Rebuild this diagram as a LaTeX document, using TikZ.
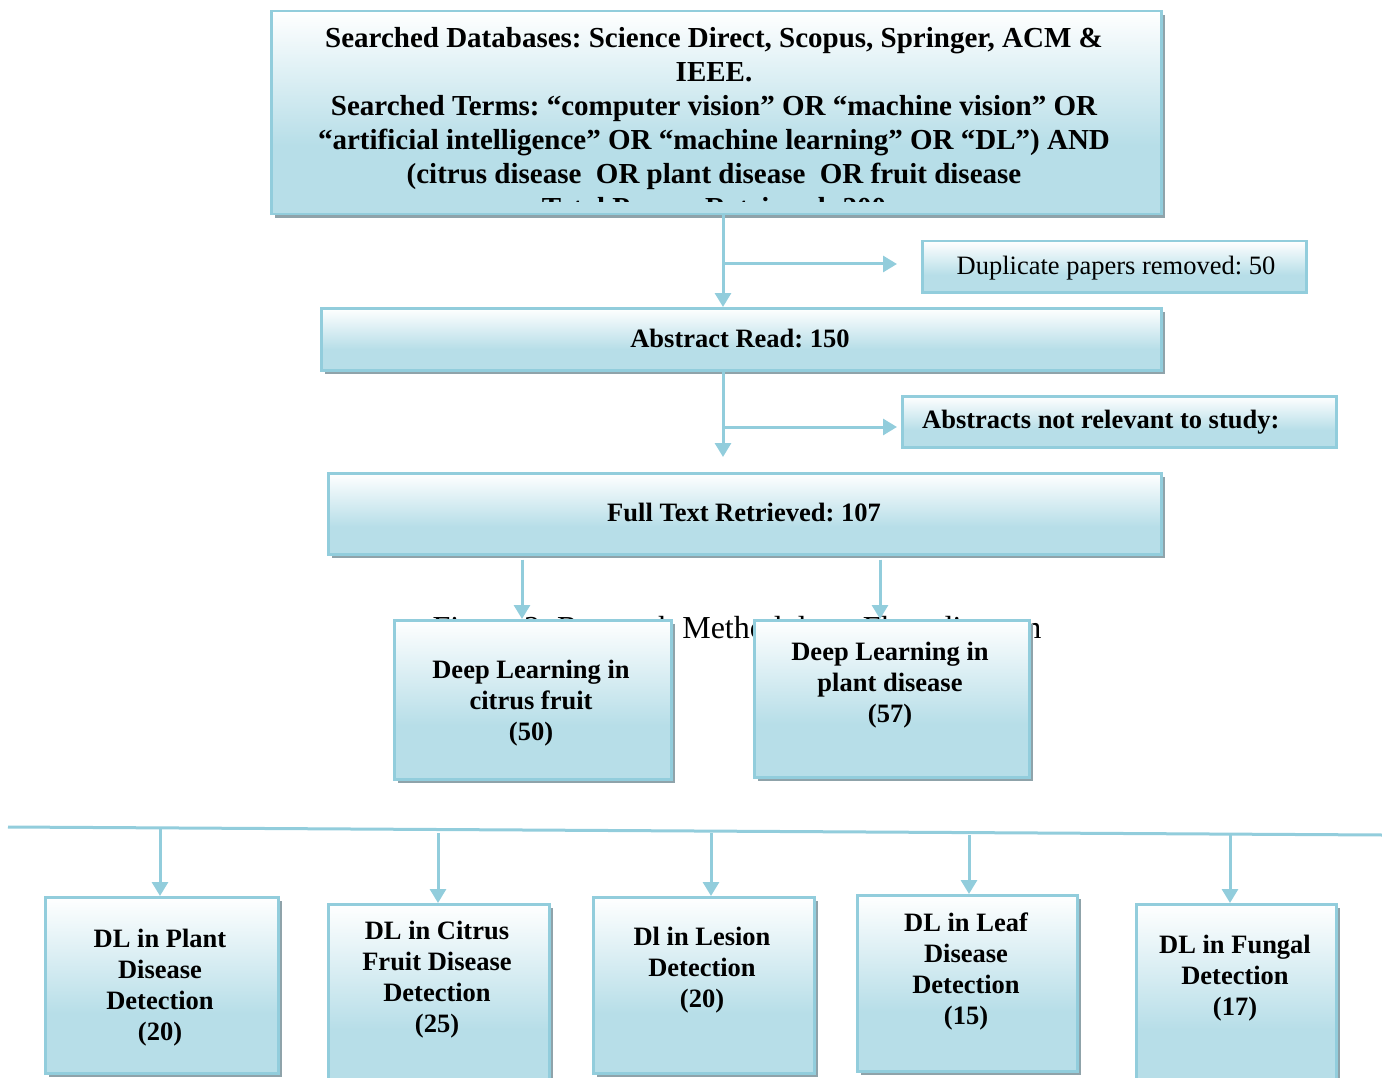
\documentclass[tikz,border=0pt]{standalone}
\usepackage{fontspec}
\setmainfont{Liberation Serif}
\usetikzlibrary{arrows.meta,shadows}
\definecolor{lineblue}{HTML}{92CDDC}
\definecolor{boxblue}{HTML}{B7DEE8}
\definecolor{shadowgray}{HTML}{8FA3AA}
\pgfdeclareverticalshading{boxshade}{100bp}{color(0bp)=(boxblue); color(25bp)=(boxblue); color(42bp)=(boxblue); color(75bp)=(white); color(100bp)=(white)}
\tikzset{
  box/.style={draw=lineblue, line width=2.5pt, shading=boxshade, inner sep=0pt, anchor=north west,
    drop shadow={shadow xshift=4pt, shadow yshift=-4pt, fill=shadowgray, opacity=1}},
  flatbox/.style={draw=lineblue, line width=2.5pt, shading=boxshade, inner sep=0pt, anchor=north west},
  conn/.style={draw=lineblue, line width=3pt, -{Triangle[width=16pt,length=14pt]}},
  plain/.style={draw=lineblue, line width=3pt},
  btxt/.style={font=\bfseries\fontsize{29}{34}\selectfont, align=center, inner sep=0pt},
  stxt/.style={font=\bfseries\fontsize{26.5}{31}\selectfont, align=center, inner sep=0pt},
}
\frenchspacing
\begin{document}
\begin{tikzpicture}[x=1pt,y=-1pt]
\useasboundingbox (0,0) rectangle (1382,1078);
\clip (0,0) rectangle (1382,1078);
% caption behind boxes
\node[font=\fontsize{32}{38}\selectfont, anchor=base, inner sep=0pt] (cap) at (737,638) {Figure 2: Research Methodology Flow diagram};
% boxes
\node[box, minimum width=890pt, minimum height=203pt] (top) at (270,10) {};
\node[flatbox, minimum width=384pt, minimum height=51pt] (dup) at (921,240) {};
\node[box, minimum width=840pt, minimum height=62pt] (abs) at (320,307) {};
\node[flatbox, minimum width=434pt, minimum height=51pt] (nrel) at (901,395) {};
\node[box, minimum width=833pt, minimum height=81pt] (full) at (327,472) {};
\node[box, minimum width=277pt, minimum height=159pt] (citrus) at (393,619) {};
\node[box, minimum width=275pt, minimum height=157pt] (plant) at (753,619) {};
\node[box, minimum width=233pt, minimum height=176pt] (b1) at (44,896) {};
\node[box, minimum width=221pt, minimum height=190pt] (b2) at (327,903) {};
\node[box, minimum width=221pt, minimum height=176pt] (b3) at (592,896) {};
\node[box, minimum width=220pt, minimum height=176pt] (b4) at (856,894) {};
\node[box, minimum width=200pt, minimum height=190pt] (b5) at (1135,903) {};
% texts
\begin{scope}
\clip (272,12) rectangle (1158,202);
\node[btxt] (ttop) at (714,126) {Searched Databases: Science Direct, Scopus, Springer, ACM \&\\IEEE.\\Searched Terms: “computer vision” OR “machine vision” OR\\“artificial intelligence” OR “machine learning” OR “DL”) AND\\(citrus disease\ \ OR plant disease\ \ OR fruit disease\\Total Papers Retrieved: 200};
\end{scope}
\node[font=\fontsize{26.5}{31}\selectfont, inner sep=0pt] (tdup) at (1116,268) {Duplicate papers removed: 50};
\node[stxt] (tabs) at (740,338) {Abstract Read: 150};
\node[stxt, anchor=west] (tnrel) at (922,422) {Abstracts not relevant to study:};
\node[stxt] (tfull) at (744,512) {Full Text Retrieved: 107};
\node[stxt] (tcitrus) at (531,703) {Deep Learning in\\citrus fruit\\(50)};
\node[stxt] (tplant) at (890,685) {Deep Learning in\\plant disease\\(57)};
\node[stxt] (tb1) at (160,988) {DL in Plant\\Disease\\Detection\\(20)};
\node[stxt] (tb2) at (437,980) {DL in Citrus\\Fruit Disease\\Detection\\(25)};
\node[stxt] (tb3) at (702,970) {Dl in Lesion\\Detection\\(20)};
\node[stxt] (tb4) at (966,971) {DL in Leaf\\Disease\\Detection\\(15)};
\node[stxt] (tb5) at (1235,978) {DL in Fungal\\Detection\\(17)};
% connectors
\coordinate (c1) at (723,0);
\coordinate (s1) at (723,264);
\coordinate (s2) at (723,427);
\draw[conn] (top.south -| c1) -- (abs.north -| c1);
\draw[conn, shorten >=24pt] (s1) -- (dup.west |- s1);
\draw[conn, shorten >=15pt] (abs.south -| c1) -- (full.north -| c1);
\draw[conn, shorten >=4pt] (s2) -- (nrel.west |- s2);
\coordinate (c2) at (522,0);
\coordinate (c3) at (880,0);
\draw[conn, shorten <=4pt] (full.south -| c2) -- (citrus.north -| c2);
\draw[conn, shorten <=4pt] (full.south -| c3) -- (plant.north -| c3);
% bus line
\coordinate (hl) at (8,827);
\coordinate (hr) at (1382,835);
\draw[plain] (hl) -- (hr);
\coordinate (d1) at (160,828);
\coordinate (d2) at (438,833);
\coordinate (d3) at (711,833);
\coordinate (d4) at (969,835);
\coordinate (d5) at (1230,835);
\draw[conn] (d1) -- (b1.north -| d1);
\draw[conn] (d2) -- (b2.north -| d2);
\draw[conn] (d3) -- (b3.north -| d3);
\draw[conn] (d4) -- (b4.north -| d4);
\draw[conn] (d5) -- (b5.north -| d5);
\end{tikzpicture}
\end{document}
